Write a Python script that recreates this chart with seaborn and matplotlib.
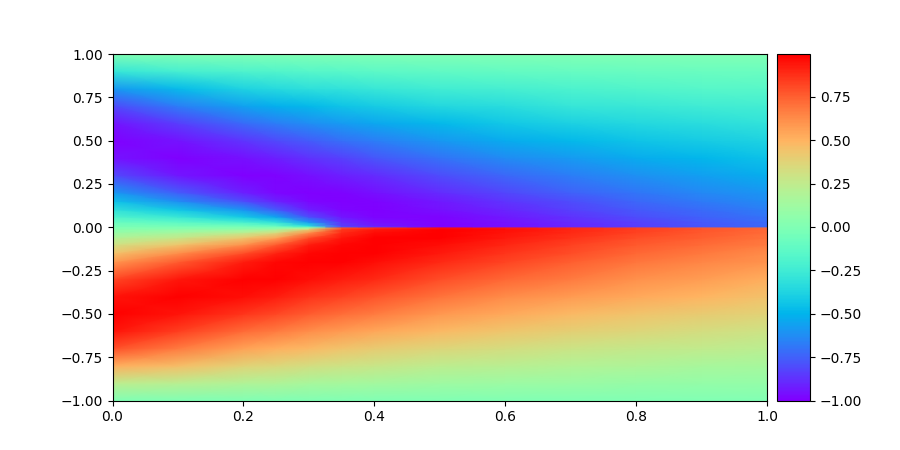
import numpy as np
import matplotlib
matplotlib.use("Agg")
import matplotlib.pyplot as plt
import seaborn as sns
from mpl_toolkits.axes_grid1 import make_axes_locatable

# time samples (horizontal axis)
t_values = [0.0, 0.1, 0.2, 0.25, 0.3, 0.35, 0.4, 0.5, 0.6, 0.7, 0.8, 0.9, 1.0]

# space samples (vertical axis), ascending
x_values = [-1.0, -0.9, -0.8, -0.7, -0.6, -0.5, -0.4, -0.3, -0.2, -0.15, -0.1, -0.06, -0.03, -0.01, -0.005,
            0.005, 0.01, 0.03, 0.06, 0.1, 0.15, 0.2, 0.3, 0.4, 0.5, 0.6, 0.7, 0.8, 0.9, 1.0]

# field values u(t, x), one profile per time sample
u_t000 = [0.00, 0.24, 0.52, 0.79, 0.95, 1.00, 0.95, 0.81, 0.59, 0.45, 0.31, 0.19, 0.09, 0.03, 0.02,
          -0.02, -0.03, -0.09, -0.19, -0.31, -0.45, -0.59, -0.81, -0.95, -1.00, -0.95, -0.81, -0.59, -0.29, 0.00]
u_t010 = [0.00, 0.22, 0.46, 0.67, 0.84, 0.95, 1.00, 0.94, 0.76, 0.62, 0.43, 0.27, 0.14, 0.05, 0.02,
          -0.02, -0.05, -0.14, -0.27, -0.43, -0.62, -0.76, -0.94, -1.00, -0.95, -0.84, -0.67, -0.47, -0.22, 0.00]
u_t020 = [0.00, 0.19, 0.38, 0.56, 0.72, 0.86, 0.96, 1.00, 0.92, 0.80, 0.60, 0.42, 0.22, 0.07, 0.03,
          -0.03, -0.07, -0.22, -0.42, -0.60, -0.80, -0.92, -1.00, -0.96, -0.86, -0.72, -0.56, -0.38, -0.19, 0.00]
u_t025 = [0.00, 0.18, 0.35, 0.51, 0.67, 0.81, 0.92, 0.99, 0.98, 0.91, 0.76, 0.55, 0.32, 0.12, 0.06,
          -0.06, -0.12, -0.32, -0.55, -0.76, -0.91, -0.98, -0.99, -0.92, -0.81, -0.67, -0.51, -0.35, -0.18, 0.00]
u_t030 = [0.00, 0.16, 0.32, 0.48, 0.62, 0.76, 0.87, 0.96, 1.00, 0.98, 0.92, 0.80, 0.60, 0.35, 0.20,
          -0.20, -0.35, -0.60, -0.80, -0.92, -0.98, -1.00, -0.96, -0.87, -0.76, -0.62, -0.48, -0.32, -0.16, 0.00]
u_t035 = [0.00, 0.15, 0.30, 0.44, 0.58, 0.71, 0.83, 0.92, 0.99, 1.00, 0.98, 0.94, 0.88, 0.85, 0.80,
          -0.80, -0.85, -0.88, -0.94, -0.98, -1.00, -0.99, -0.92, -0.83, -0.71, -0.58, -0.44, -0.30, -0.15, 0.00]
u_t040 = [0.00, 0.14, 0.28, 0.41, 0.54, 0.67, 0.78, 0.89, 0.96, 0.99, 1.00, 0.99, 0.96, 0.93, 0.88,
          -0.88, -0.93, -0.96, -0.99, -1.00, -0.99, -0.96, -0.89, -0.78, -0.67, -0.54, -0.41, -0.28, -0.14, 0.00]
u_t050 = [0.00, 0.12, 0.24, 0.36, 0.48, 0.59, 0.70, 0.80, 0.89, 0.93, 0.96, 0.99, 0.99, 1.00, 0.97,
          -0.97, -1.00, -0.99, -0.99, -0.96, -0.93, -0.89, -0.80, -0.70, -0.59, -0.48, -0.36, -0.24, -0.12, 0.00]
u_t060 = [0.00, 0.11, 0.22, 0.33, 0.43, 0.53, 0.63, 0.73, 0.82, 0.86, 0.90, 0.93, 0.95, 0.96, 0.94,
          -0.94, -0.96, -0.95, -0.93, -0.90, -0.86, -0.82, -0.73, -0.63, -0.53, -0.43, -0.33, -0.22, -0.11, 0.00]
u_t070 = [0.00, 0.10, 0.20, 0.29, 0.39, 0.48, 0.58, 0.67, 0.75, 0.80, 0.83, 0.87, 0.89, 0.90, 0.89,
          -0.89, -0.90, -0.89, -0.87, -0.83, -0.80, -0.75, -0.67, -0.58, -0.48, -0.39, -0.29, -0.20, -0.10, 0.00]
u_t080 = [0.00, 0.09, 0.18, 0.27, 0.36, 0.44, 0.53, 0.61, 0.69, 0.73, 0.77, 0.80, 0.83, 0.84, 0.83,
          -0.83, -0.84, -0.83, -0.80, -0.77, -0.73, -0.69, -0.61, -0.53, -0.44, -0.36, -0.27, -0.18, -0.09, 0.00]
u_t090 = [0.00, 0.08, 0.16, 0.25, 0.33, 0.41, 0.49, 0.57, 0.64, 0.68, 0.72, 0.75, 0.77, 0.78, 0.77,
          -0.77, -0.78, -0.77, -0.75, -0.72, -0.68, -0.64, -0.57, -0.49, -0.41, -0.33, -0.25, -0.16, -0.08, 0.00]
u_t100 = [0.00, 0.08, 0.15, 0.23, 0.30, 0.38, 0.45, 0.52, 0.60, 0.63, 0.67, 0.70, 0.72, 0.73, 0.72,
          -0.72, -0.73, -0.72, -0.70, -0.67, -0.63, -0.60, -0.52, -0.45, -0.38, -0.30, -0.23, -0.15, -0.08, 0.00]

profiles = [u_t000, u_t010, u_t020, u_t025, u_t030, u_t035, u_t040,
            u_t050, u_t060, u_t070, u_t080, u_t090, u_t100]
U = np.column_stack([np.asarray(p, dtype=float) for p in profiles])

cmap = sns.color_palette("rainbow", as_cmap=True)

fig, ax = plt.subplots(figsize=(9, 4.5), dpi=100)
mesh = ax.pcolormesh(np.asarray(t_values), np.asarray(x_values), U,
                     shading="gouraud", cmap=cmap, vmin=-1.0, vmax=0.997)
ax.set_xlim(0.0, 1.0)
ax.set_ylim(-1.0, 1.0)

divider = make_axes_locatable(ax)
cax = divider.append_axes("right", size="5%", pad=0.1)
fig.colorbar(mesh, cax=cax)

fig.savefig("out.png", dpi=100)
